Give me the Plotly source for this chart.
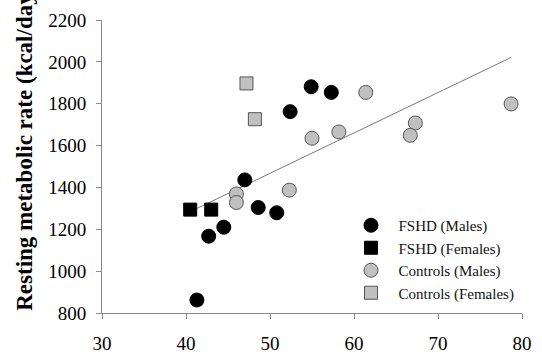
import plotly.graph_objects as go

# Data (age in years, resting metabolic rate in kcal/day)
fshd_m_x = [54.9, 57.3, 52.4, 47.0, 48.6, 50.8, 44.5, 42.7, 41.3]
fshd_m_y = [1881, 1854, 1762, 1436, 1304, 1279, 1210, 1167, 862]
fshd_f_x = [40.5, 43.0]
fshd_f_y = [1294, 1294]
ctrl_m_x = [55.0, 58.2, 46.0, 46.0, 52.3, 61.4, 78.7, 67.3, 66.7]
ctrl_m_y = [1635, 1665, 1369, 1328, 1387, 1854, 1799, 1708, 1649]
ctrl_f_x = [47.2, 48.2]
ctrl_f_y = [1897, 1726]
trend_x = [40.8, 78.7]
trend_y = [1290, 2021]

x_ticks = [30, 40, 50, 60, 70, 80]
y_ticks = [800, 1000, 1200, 1400, 1600, 1800, 2000, 2200]

FONT = "Liberation Serif, Times New Roman, serif"

fig = go.Figure()
fig.add_trace(go.Scatter(x=trend_x, y=trend_y, mode="lines",
                         line=dict(color="#7a7a7a", width=1),
                         showlegend=False, hoverinfo="skip"))
fig.add_trace(go.Scatter(x=fshd_m_x, y=fshd_m_y, mode="markers", name="FSHD (Males)",
                         marker=dict(symbol="circle", size=14, color="black",
                                     line=dict(color="black", width=1))))
fig.add_trace(go.Scatter(x=fshd_f_x, y=fshd_f_y, mode="markers", name="FSHD (Females)",
                         marker=dict(symbol="square", size=13, color="black",
                                     line=dict(color="black", width=1))))
fig.add_trace(go.Scatter(x=ctrl_m_x, y=ctrl_m_y, mode="markers", name="Controls (Males)",
                         marker=dict(symbol="circle", size=14, color="#c0c0c0",
                                     line=dict(color="#555555", width=1))))
fig.add_trace(go.Scatter(x=ctrl_f_x, y=ctrl_f_y, mode="markers", name="Controls (Females)",
                         marker=dict(symbol="square", size=13, color="#c0c0c0",
                                     line=dict(color="#555555", width=1))))

fig.update_layout(
    width=542, height=354,
    margin=dict(l=102, r=20, t=20, b=41, autoexpand=False),
    paper_bgcolor="white", plot_bgcolor="white",
    font=dict(family=FONT, size=17, color="black"),
    legend=dict(x=0.575, y=0.355, xanchor="left", yanchor="top",
                font=dict(family=FONT, size=15, color="#111111"),
                bgcolor="rgba(0,0,0,0)", tracegroupgap=0, itemwidth=45),
    xaxis=dict(range=[30, 80], tickvals=x_ticks, showgrid=False, zeroline=False,
               showline=True, linecolor="#8a8a8a", linewidth=1, automargin=False,
               ticks="outside", ticklen=5, tickcolor="#8a8a8a",
               tickfont=dict(family=FONT, size=19), ticklabelstandoff=8),
    yaxis=dict(range=[800, 2200], tickvals=y_ticks, showgrid=False, zeroline=False,
               showline=True, linecolor="#8a8a8a", linewidth=1, automargin=False,
               ticks="outside", ticklen=5, tickcolor="#8a8a8a",
               tickfont=dict(family=FONT, size=19), ticklabelstandoff=6),
    annotations=[dict(text="<b>Resting metabolic rate (kcal/day)</b>",
                      xref="paper", yref="paper", x=-0.185, y=0,
                      xanchor="center", yanchor="bottom", textangle=-90,
                      showarrow=False, font=dict(family=FONT, size=23, color="black"))],
)

fig.write_html("out.html")
